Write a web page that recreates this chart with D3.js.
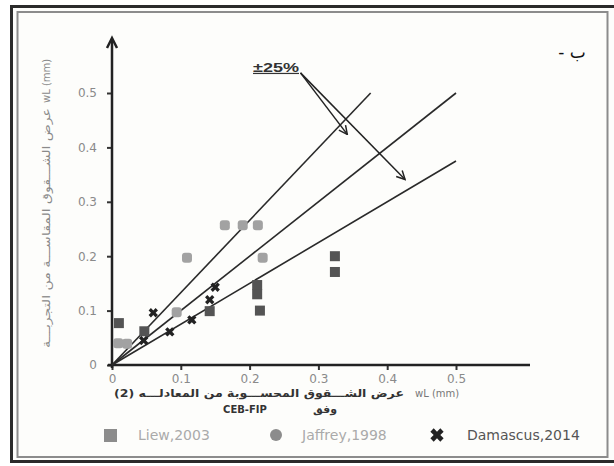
<!DOCTYPE html>
<html>
<head>
<meta charset="utf-8">
<script src="https://cdn.jsdelivr.net/npm/d3@7"></script>
<style>
    body { margin: 0; background: #fff; }
    svg { display: block; font-family: "DejaVu Sans", Arial, sans-serif; }
</style>
</head>
<body>
<div id="chart"></div>
<script>

// measured crack width vs computed crack width (mm)
const liew2003 = [[0.010, 0.077], [0.047, 0.062], [0.142, 0.099], [0.211, 0.147],
    [0.211, 0.130], [0.215, 0.100], [0.324, 0.200], [0.324, 0.171]];
const jaffrey1998 = [[0.009, 0.040], [0.022, 0.039], [0.094, 0.097], [0.109, 0.197],
    [0.164, 0.257], [0.190, 0.257], [0.212, 0.257], [0.219, 0.197]];
const damascus2014 = [[0.060, 0.096], [0.084, 0.061], [0.116, 0.083], [0.142, 0.120],
    [0.150, 0.143], [0.046, 0.045]];

// 1:1 line and +-25% lines (slope of y on x)
const lineSlopes = [1.33, 1, 0.75];
const tickValues = [0, 0.1, 0.2, 0.3, 0.4, 0.5];
const legendLabels = ["Liew,2003", "Jaffrey,1998", "Damascus,2014"];

// annotation "±25%" arrows: start and the two end points, in data units
const noteStart = [0.274, 0.537];
const noteEnds = [[0.342, 0.424], [0.426, 0.341]];

class CrackChart {

    constructor(parentElement) {
        this.parentElement = parentElement;
        this.initVis();
    }

    initVis() {
        let vis = this;
        vis.width = 614;
        vis.height = 466;

        vis.svg = d3.select("#" + vis.parentElement).append("svg")
            .attr("width", vis.width)
            .attr("height", vis.height);

        // double frame round the figure
        vis.svg.append("rect")
            .attr("x", 11.5).attr("y", 6.5)
            .attr("width", 620).attr("height", 455)
            .attr("fill", "#fdfdfb")
            .attr("stroke", "#2b2b2b").attr("stroke-width", 3);
        vis.svg.append("rect")
            .attr("x", 17.5).attr("y", 12)
            .attr("width", 590).attr("height", 445)
            .attr("fill", "none")
            .attr("stroke", "#8c8c8c").attr("stroke-width", 2);

        vis.x = d3.scaleLinear().domain([0, 0.5]).range([112, 456]);
        vis.y = d3.scaleLinear().domain([0, 0.5]).range([365, 93]);

        vis.svg.append("defs").append("marker")
            .attr("id", "head")
            .attr("viewBox", "0 0 10 10")
            .attr("refX", 9).attr("refY", 5)
            .attr("markerWidth", 7).attr("markerHeight", 7)
            .attr("orient", "auto")
            .append("path")
            .attr("d", "M1,1 L9,5 L1,9")
            .attr("fill", "none")
            .attr("stroke", "#222")
            .attr("stroke-width", 1.4);

        vis.drawAxes();
        vis.drawLines();
        vis.drawPoints();
        vis.drawTexts();
        vis.drawLegend();
    }

    drawAxes() {
        let vis = this;
        let fmt = d => d === 0 ? "0" : d3.format(".1f")(d);

        let xAxis = vis.svg.append("g")
            .attr("transform", `translate(0, ${vis.y(0)})`)
            .call(d3.axisBottom(vis.x).tickValues(tickValues).tickSize(5).tickFormat(fmt));
        xAxis.select(".domain").remove();

        let yAxis = vis.svg.append("g")
            .attr("transform", `translate(${vis.x(0)}, 0)`)
            .call(d3.axisLeft(vis.y).tickValues(tickValues).tickSize(5).tickFormat(fmt));
        yAxis.select(".domain").remove();

        vis.svg.selectAll(".tick line").attr("stroke", "#333").attr("stroke-width", 2);
        vis.svg.selectAll(".tick text")
            .attr("fill", "#8a8a8a")
            .attr("font-size", 12)
            .attr("font-family", "DejaVu Sans, sans-serif");
        yAxis.selectAll(".tick text").attr("x", -15);
        xAxis.selectAll(".tick text").attr("y", 9);

        // axis lines
        vis.svg.append("line")
            .attr("x1", vis.x(0) - 4).attr("x2", 530)
            .attr("y1", vis.y(0)).attr("y2", vis.y(0))
            .attr("stroke", "#222").attr("stroke-width", 2.5);
        vis.svg.append("line")
            .attr("x1", vis.x(0)).attr("x2", vis.x(0))
            .attr("y1", vis.y(0) + 3).attr("y2", 40)
            .attr("stroke", "#222").attr("stroke-width", 2.5);
        vis.svg.append("path")
            .attr("d", `M${vis.x(0) - 5},${48} L${vis.x(0)},${38} L${vis.x(0) + 5},${48}`)
            .attr("fill", "none")
            .attr("stroke", "#222").attr("stroke-width", 2.5);
    }

    drawLines() {
        let vis = this;

        vis.svg.append("g").selectAll("line.ratio")
            .data(lineSlopes)
            .join("line")
            .attr("class", "ratio")
            .attr("x1", vis.x(0)).attr("y1", vis.y(0))
            .attr("x2", d => vis.x(Math.min(0.5, 0.5 / d)))
            .attr("y2", d => vis.y(Math.min(0.5, 0.5 / d) * d))
            .attr("stroke", "#2a2a2a")
            .attr("stroke-width", 1.6);

        vis.svg.append("g").selectAll("line.note")
            .data(noteEnds)
            .join("line")
            .attr("class", "note")
            .attr("x1", vis.x(noteStart[0])).attr("y1", vis.y(noteStart[1]))
            .attr("x2", d => vis.x(d[0])).attr("y2", d => vis.y(d[1]))
            .attr("stroke", "#222")
            .attr("stroke-width", 1.5)
            .attr("marker-end", "url(#head)");

        vis.svg.append("text")
            .attr("x", 253)
            .attr("y", vis.y(noteStart[1]) - 1)
            .attr("font-size", 12)
            .attr("font-weight", "bold")
            .attr("font-family", "Liberation Sans, Arial, sans-serif")
            .attr("fill", "#333")
            .attr("text-decoration", "underline")
            .attr("textLength", 46)
            .attr("lengthAdjust", "spacingAndGlyphs")
            .text("±25%");
    }

    drawPoints() {
        let vis = this;

        vis.svg.append("g").selectAll("rect.jaffrey")
            .data(jaffrey1998)
            .join("rect")
            .attr("class", "jaffrey")
            .attr("x", d => vis.x(d[0]) - 5).attr("y", d => vis.y(d[1]) - 5)
            .attr("width", 10).attr("height", 10)
            .attr("rx", 3)
            .attr("fill", "#a2a2a2");

        vis.svg.append("g").selectAll("rect.liew")
            .data(liew2003)
            .join("rect")
            .attr("class", "liew")
            .attr("x", d => vis.x(d[0]) - 5).attr("y", d => vis.y(d[1]) - 5)
            .attr("width", 10).attr("height", 10)
            .attr("fill", "#545454");

        let cross = d3.symbol().type(d3.symbolCross).size(55);
        vis.svg.append("g").selectAll("path.damascus")
            .data(damascus2014)
            .join("path")
            .attr("class", "damascus")
            .attr("d", cross)
            .attr("transform", d => `translate(${vis.x(d[0])}, ${vis.y(d[1])}) rotate(45)`)
            .attr("fill", "#222");
    }

    drawTexts() {
        let vis = this;

        // x title
        vis.svg.append("text")
            .attr("x", 259).attr("y", 397)
            .attr("text-anchor", "middle")
            .attr("direction", "rtl")
            .attr("font-size", 11)
            .attr("font-weight", "bold")
            .attr("fill", "#333")
            .attr("textLength", 290)
            .attr("lengthAdjust", "spacingAndGlyphs")
            .text("عرض الشـــقوق المحســـوبة من المعادلـــه (2)");
        vis.svg.append("text")
            .attr("x", 415).attr("y", 397)
            .attr("font-size", 10)
            .attr("fill", "#777")
            .text("wL (mm)");
        vis.svg.append("text")
            .attr("x", 245).attr("y", 413)
            .attr("text-anchor", "middle")
            .attr("font-size", 10)
            .attr("font-weight", "bold")
            .attr("fill", "#333")
            .text("CEB-FIP");
        vis.svg.append("text")
            .attr("x", 325).attr("y", 413)
            .attr("text-anchor", "middle")
            .attr("direction", "rtl")
            .attr("font-size", 11)
            .attr("font-weight", "bold")
            .attr("fill", "#333")
            .text("وفق");

        // y title
        let yTitle = vis.svg.append("g").attr("transform", "translate(50, 0) rotate(-90)");
        yTitle.append("text")
            .attr("x", -228).attr("y", 0)
            .attr("text-anchor", "middle")
            .attr("direction", "rtl")
            .attr("font-size", 11)
            .attr("fill", "#8a8a8a")
            .attr("textLength", 240)
            .attr("lengthAdjust", "spacingAndGlyphs")
            .text("عرض الشـــقوق المقاســـة من التجربـــة");
        yTitle.append("text")
            .attr("x", -103).attr("y", 0)
            .attr("font-size", 10)
            .attr("fill", "#8a8a8a")
            .text("wL (mm)");

        // panel letter
        vis.svg.append("text")
            .attr("x", 572).attr("y", 58)
            .attr("text-anchor", "middle")
            .attr("direction", "rtl")
            .attr("font-size", 17)
            .attr("fill", "#111")
            .text("ب -");
    }

    drawLegend() {
        let vis = this;
        let legend = vis.svg.append("g");

        legend.append("rect")
            .attr("x", 104).attr("y", 429)
            .attr("width", 13).attr("height", 13)
            .attr("fill", "#8c8c8c");
        legend.append("circle")
            .attr("cx", 276).attr("cy", 435)
            .attr("r", 6)
            .attr("fill", "#8c8c8c");
        legend.append("path")
            .attr("d", d3.symbol().type(d3.symbolCross).size(110)())
            .attr("transform", "translate(437, 435) rotate(45)")
            .attr("fill", "#222");

        legend.selectAll("text")
            .data(legendLabels)
            .join("text")
            .attr("x", (d, i) => [138, 302, 467][i])
            .attr("y", 440)
            .attr("font-size", 14)
            .attr("fill", (d, i) => i === 2 ? "#555" : "#aaa")
            .text(d => d);
    }
}

new CrackChart("chart");
</script>
</body>
</html>
